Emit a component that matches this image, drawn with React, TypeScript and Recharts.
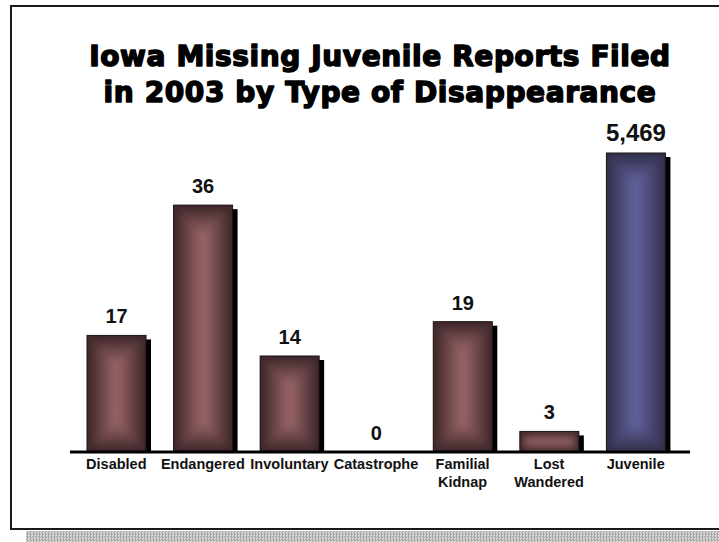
import { BarChart, Bar, XAxis, YAxis, LabelList } from 'recharts'

const titleLines = ['Iowa Missing Juvenile Reports Filed', 'in 2003 by Type of Disappearance']
const categories = ['Disabled', 'Endangered', 'Involuntary', 'Catastrophe', 'Familial\nKidnap', 'Lost\nWandered', 'Juvenile']
const reports = [17, 36, 14, 0, 19, 3, 5469]
// the value axis is broken: anything above axisMax is drawn up to the top of the plot
const axisMax = 43.6

const data = categories.map((name, i) => ({
  name,
  value: reports[i],
  shown: Math.min(reports[i], axisMax),
}))

const tones: Record<string, { edge: string; center: string }> = {
  red: { edge: '#3a2427', center: '#9c676a' },
  blue: { edge: '#2f2e48', center: '#6463a0' },
}

// "from center" rectangle gradient: four mitred pieces, each fading edge -> middle,
// softened with a blur and clipped back to the bar
const PyramidBar = (props: any) => {
  const { x, y, width: w, height: h, payload, index } = props
  if (!h || h <= 0) return null
  const tone = payload.name === 'Juvenile' ? 'blue' : 'red'
  const m = Math.min(w, h) / 2
  const x2 = x + w
  const y2 = y + h
  const pts = (arr: number[][]) => arr.map(p => p.join(',')).join(' ')
  const clipId = `bar-clip-${index}`

  return (
    <g>
      <defs>
        <clipPath id={clipId}>
          <rect x={x} y={y} width={w} height={h} />
        </clipPath>
      </defs>
      <rect x={x + 5} y={y + 4} width={w} height={h - 4} fill="#000" />
      <rect x={x} y={y} width={w} height={h} fill={tones[tone].edge} />
      <g clipPath={`url(#${clipId})`}>
        <g filter="url(#soften)">
          <polygon points={pts([[x, y], [x + m, y + m], [x + m, y2 - m], [x, y2]])} fill={`url(#${tone}-l)`} />
          <polygon points={pts([[x2, y], [x2 - m, y + m], [x2 - m, y2 - m], [x2, y2]])} fill={`url(#${tone}-r)`} />
          <polygon points={pts([[x, y], [x2, y], [x2 - m, y + m], [x + m, y + m]])} fill={`url(#${tone}-t)`} />
          <polygon points={pts([[x, y2], [x2, y2], [x2 - m, y2 - m], [x + m, y2 - m]])} fill={`url(#${tone}-b)`} />
        </g>
      </g>
      <rect x={x} y={y} width={w} height={h} fill="none" stroke="#1c1314" strokeWidth={1} />
    </g>
  )
}

const ValueLabel = (props: any) => {
  const { x, y, width, value } = props
  const big = value >= 1000
  return (
    <text
      x={x + width / 2}
      y={y - 12}
      textAnchor="middle"
      fontFamily="'Liberation Sans', Arial, sans-serif"
      fontWeight="bold"
      fontSize={big ? 24 : 20}
      fill="#111"
    >
      {Number(value).toLocaleString('en-US')}
    </text>
  )
}

const CategoryTick = (props: any) => {
  const { x, y, payload } = props
  const lines = String(payload.value).split('\n')
  return (
    <text
      x={x}
      y={y}
      textAnchor="middle"
      fontFamily="'Liberation Sans', Arial, sans-serif"
      fontWeight="bold"
      fontSize={14.5}
      fill="#111"
    >
      {lines.map((line, i) => (
        <tspan key={line} x={x} dy={i === 0 ? 17 : 18}>{line}</tspan>
      ))}
    </text>
  )
}

const GradientDefs = () => (
  <svg width={0} height={0} style={{ position: 'absolute' }}>
    <defs>
      <filter id="soften" x="-20%" y="-20%" width="140%" height="140%">
        <feGaussianBlur stdDeviation={3} />
      </filter>
      {Object.entries(tones).map(([key, c]) => (
        <g key={key}>
          <linearGradient id={`${key}-l`} x1="0" y1="0" x2="1" y2="0">
            <stop offset="0" stopColor={c.edge} />
            <stop offset="1" stopColor={c.center} />
          </linearGradient>
          <linearGradient id={`${key}-r`} x1="1" y1="0" x2="0" y2="0">
            <stop offset="0" stopColor={c.edge} />
            <stop offset="1" stopColor={c.center} />
          </linearGradient>
          <linearGradient id={`${key}-t`} x1="0" y1="0" x2="0" y2="1">
            <stop offset="0" stopColor={c.edge} />
            <stop offset="1" stopColor={c.center} />
          </linearGradient>
          <linearGradient id={`${key}-b`} x1="0" y1="1" x2="0" y2="0">
            <stop offset="0" stopColor={c.edge} />
            <stop offset="1" stopColor={c.center} />
          </linearGradient>
        </g>
      ))}
    </defs>
  </svg>
)

export default function App() {
  return (
    <div style={{ position: 'absolute', left: 0, top: 0, width: 719, height: 542, overflow: 'hidden', background: '#fff' }}>
      <GradientDefs />

      {/* frame and its hatched drop shadow */}
      <div style={{
        position: 'absolute', left: 10, top: 5, width: 760, height: 525,
        border: '2px solid #1a1a1a', boxSizing: 'border-box'
      }} />
      <div style={{
        position: 'absolute', left: 26, top: 531, width: 700, height: 11,
        background: 'repeating-conic-gradient(#a9a9a9 0 25%, #dadada 0 50%) 0 0 / 3px 3px'
      }} />

      <div style={{ position: 'absolute', left: 0, top: 0 }}>
        <BarChart
          width={719}
          height={542}
          data={data}
          margin={{ top: 153, right: 29, left: 70, bottom: 50 }}
        >
          <XAxis
            dataKey="name"
            height={40}
            interval={0}
            padding={{ left: 3, right: 11 }}
            axisLine={{ stroke: '#000', strokeWidth: 3 }}
            tickLine={false}
            tickSize={0}
            tickMargin={0}
            tick={(p: any) => <CategoryTick {...p} />}
          />
          <YAxis hide width={0} domain={[0, axisMax]} />
          <Bar dataKey="shown" barSize={59} shape={PyramidBar} isAnimationActive={false}>
            <LabelList dataKey="value" content={ValueLabel} />
          </Bar>
        </BarChart>
      </div>

      <svg width={719} height={542} style={{ position: 'absolute', left: 0, top: 0, pointerEvents: 'none' }}>
        {titleLines.map((line, i) => (
          <text
            key={line}
            x={380}
            y={66 + i * 36}
            textAnchor="middle"
            fontFamily="'DejaVu Sans', sans-serif"
            fontWeight="bold"
            fontSize={28}
            letterSpacing={0.6}
            fill="#000"
            stroke="#000"
            strokeWidth={1.5}
            strokeLinejoin="round"
          >
            {line}
          </text>
        ))}
      </svg>
    </div>
  )
}
